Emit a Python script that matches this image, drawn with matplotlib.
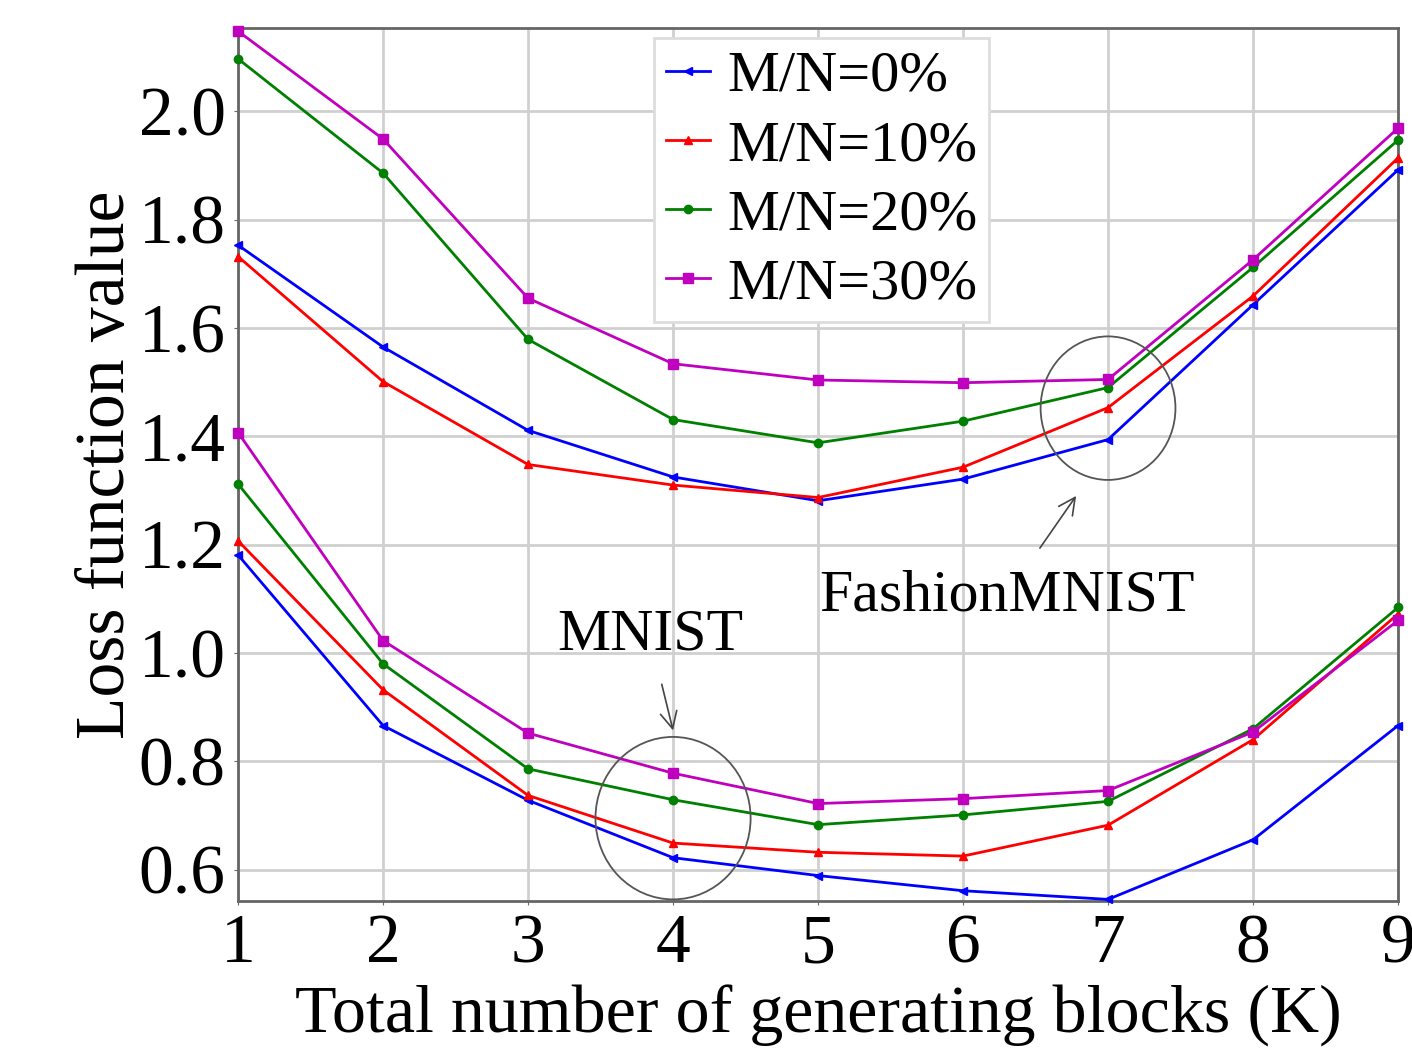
import matplotlib.pyplot as plt
from matplotlib.patches import Ellipse

# Number of generating blocks K
k_values = [1, 2, 3, 4, 5, 6, 7, 8, 9]

# FashionMNIST loss
fashion_0 = [1.753, 1.565, 1.411, 1.325, 1.281, 1.321, 1.394, 1.643, 1.892]
fashion_10 = [1.732, 1.501, 1.348, 1.310, 1.287, 1.343, 1.453, 1.659, 1.914]
fashion_20 = [2.097, 1.886, 1.579, 1.431, 1.388, 1.428, 1.490, 1.712, 1.947]
fashion_30 = [2.148, 1.949, 1.655, 1.534, 1.504, 1.499, 1.505, 1.726, 1.969]

# MNIST loss
mnist_0 = [1.181, 0.866, 0.728, 0.622, 0.589, 0.561, 0.545, 0.655, 0.866]
mnist_10 = [1.207, 0.932, 0.737, 0.649, 0.632, 0.625, 0.682, 0.840, 1.072]
mnist_20 = [1.312, 0.980, 0.786, 0.729, 0.683, 0.701, 0.726, 0.860, 1.084]
mnist_30 = [1.407, 1.023, 0.852, 0.778, 0.722, 0.731, 0.746, 0.854, 1.060]

labels = ['M/N=0%', 'M/N=10%', 'M/N=20%', 'M/N=30%']
colors = ['blue', 'red', 'green', 'm']
markers = ['<', '^', 'o', 's']
sizes = [6, 6, 6, 7]

plt.rcParams['font.family'] = ['Liberation Serif', 'DejaVu Serif']

fig = plt.figure(figsize=(14.12, 10.51), dpi=100)
ax = fig.add_axes([0.1686, 0.1427, 0.8215, 0.8307])

fashion = [fashion_0, fashion_10, fashion_20, fashion_30]
mnist = [mnist_0, mnist_10, mnist_20, mnist_30]

for i in range(4):
    ax.plot(k_values, fashion[i], color=colors[i], marker=markers[i],
            markersize=sizes[i], linewidth=2, label=labels[i], clip_on=False, zorder=3)
    ax.plot(k_values, mnist[i], color=colors[i], marker=markers[i],
            markersize=sizes[i], linewidth=2, clip_on=False, zorder=3)

ax.set_xlim(1, 9)
ax.set_ylim(0.542, 2.154)
ax.set_xticks(k_values)
ax.set_yticks([0.6, 0.8, 1.0, 1.2, 1.4, 1.6, 1.8, 2.0])
ax.set_yticklabels(['0.6', '0.8', '1.0', '1.2', '1.4', '1.6', '1.8', '2.0'])
ax.tick_params(labelsize=50, length=3, color='#666666', pad=6)
ax.grid(True, color='#d0d0d0', linewidth=2)
ax.set_axisbelow(True)
for s in ax.spines.values():
    s.set_color('#666666')
    s.set_linewidth(2)

ax.set_xlabel('Total number of generating blocks (K)', fontsize=49, labelpad=6)
ax.set_ylabel('Loss function value', fontsize=50, labelpad=0)

# circles and notes
ax.add_patch(Ellipse((7, 1.452), 0.93, 0.265, fill=False, edgecolor='#555555', linewidth=1.3, zorder=4))
ax.add_patch(Ellipse((4, 0.695), 1.07, 0.30, fill=False, edgecolor='#555555', linewidth=1.3, zorder=4))

ax.annotate('FashionMNIST', xy=(6.78, 1.29), xytext=(6.3, 1.105),
            fontsize=43, ha='center', va='center',
            arrowprops=dict(arrowstyle='->', color='#444444', lw=1.2, mutation_scale=30,
                            shrinkA=16, shrinkB=0))
ax.annotate('MNIST', xy=(4.0, 0.857), xytext=(3.84, 1.032),
            fontsize=43, ha='center', va='center',
            arrowprops=dict(arrowstyle='->', color='#444444', lw=1.2, mutation_scale=30,
                            shrinkA=14, shrinkB=0))

leg = ax.legend(loc='upper left', bbox_to_anchor=(0.359, 0.988), fontsize=42,
                handlelength=0.75, handletextpad=0.3, labelspacing=0.28,
                borderpad=0.2, borderaxespad=0, fancybox=False, framealpha=1,
                edgecolor='#dddddd')
leg.get_frame().set_linewidth(2)

fig.savefig('out.png', dpi=100)
